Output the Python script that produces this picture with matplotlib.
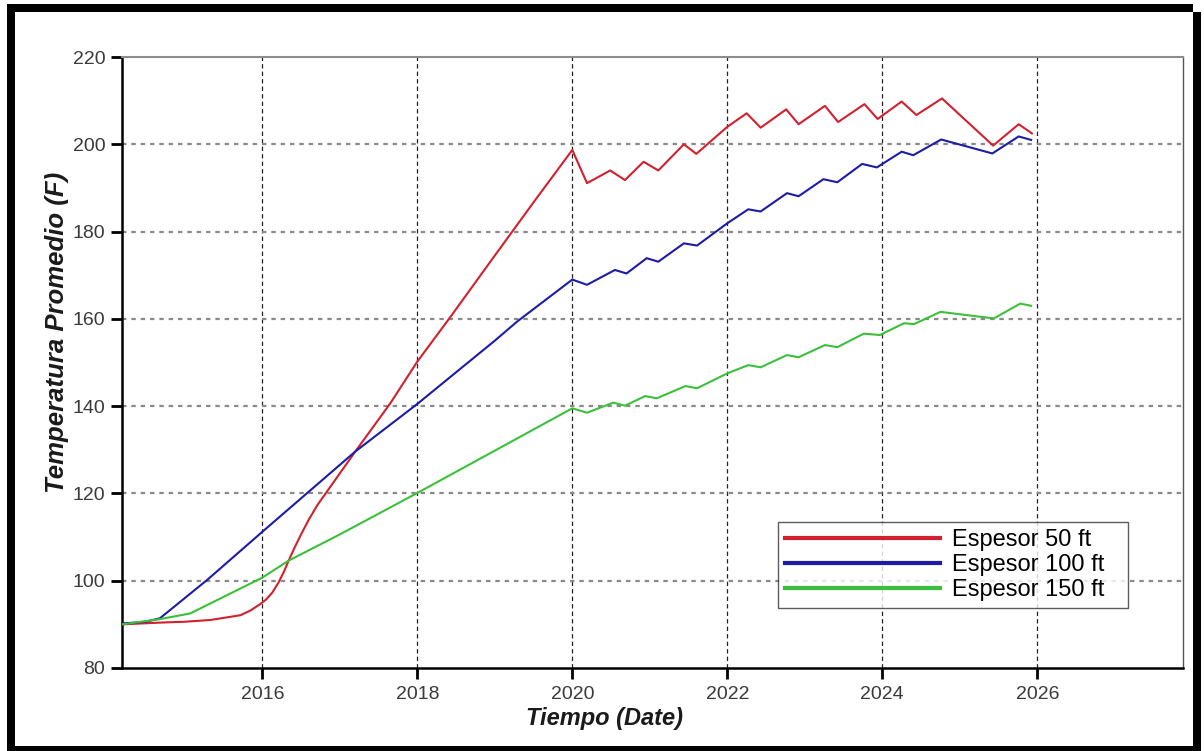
import matplotlib
matplotlib.use("Agg")
import matplotlib.pyplot as plt
from matplotlib.patches import Rectangle
from matplotlib.lines import Line2D

# ---- data: average temperature (F) vs. time (decimal year) ----
red_years = [2014.19, 2014.68, 2015.0, 2015.33, 2015.72, 2015.85, 2015.97, 2016.05,
             2016.13, 2016.21, 2016.28, 2016.34, 2016.42, 2016.5, 2016.6, 2016.71,
             2017.2, 2017.65, 2018.0, 2018.43, 2019.0, 2019.5, 2020.0, 2020.19,
             2020.49, 2020.68, 2020.92, 2021.11, 2021.44, 2021.6, 2022.0, 2022.25,
             2022.43, 2022.76, 2022.92, 2023.26, 2023.43, 2023.77, 2023.94, 2024.25,
             2024.44, 2024.77, 2025.43, 2025.76, 2025.93]
red_temp = [90.0, 90.4, 90.6, 91.0, 92.1, 93.2, 94.6, 95.7,
            97.3, 99.6, 102.1, 104.6, 107.7, 110.6, 114.0, 117.3,
            129.6, 140.6, 150.2, 160.5, 174.5, 186.7, 198.7, 191.1,
            194.0, 191.8, 196.0, 194.0, 200.0, 197.8, 204.0, 207.1,
            203.8, 208.0, 204.6, 208.8, 205.1, 209.2, 205.8, 209.8,
            206.7, 210.5, 199.7, 204.6, 202.5]

blue_years = [2014.19, 2014.5, 2014.68, 2015.29, 2016.0, 2017.2, 2018.0, 2019.0,
              2019.29, 2020.0, 2020.19, 2020.55, 2020.7, 2020.96, 2021.11, 2021.44,
              2021.61, 2022.0, 2022.27, 2022.43, 2022.77, 2022.92, 2023.24, 2023.42,
              2023.74, 2023.93, 2024.25, 2024.40, 2024.76, 2025.42, 2025.76, 2025.92]
blue_temp = [90.2, 90.6, 91.4, 100.2, 111.2, 129.6, 140.5, 155.0,
             159.4, 169.0, 167.8, 171.2, 170.4, 173.9, 173.1, 177.3,
             176.8, 181.9, 185.1, 184.6, 188.8, 188.1, 192.0, 191.3,
             195.5, 194.7, 198.3, 197.5, 201.1, 197.9, 201.8, 201.0]

green_years = [2014.19, 2014.68, 2015.07, 2016.0, 2016.34, 2017.0, 2018.0, 2019.0,
               2020.0, 2020.19, 2020.53, 2020.68, 2020.94, 2021.09, 2021.46, 2021.61,
               2022.0, 2022.27, 2022.43, 2022.77, 2022.92, 2023.26, 2023.42, 2023.76,
               2023.97, 2024.28, 2024.41, 2024.75, 2025.44, 2025.78, 2025.92]
green_temp = [90.0, 91.2, 92.5, 100.7, 104.6, 110.6, 120.1, 129.8,
              139.5, 138.5, 140.8, 140.1, 142.3, 141.8, 144.6, 144.1,
              147.5, 149.4, 148.9, 151.7, 151.2, 154.0, 153.5, 156.6,
              156.3, 159.0, 158.8, 161.6, 160.1, 163.5, 163.0]

series_labels = ["Espesor 50 ft", "Espesor 100 ft", "Espesor 150 ft"]
series_colors = ["#d3202e", "#1c1ca6", "#3cc03c"]

x_ticks = [2016, 2018, 2020, 2022, 2024, 2026]
y_ticks = [80, 100, 120, 140, 160, 180, 200, 220]

W, H = 1204, 751
plt.rcParams["font.family"] = ["Liberation Sans", "DejaVu Sans"]

fig = plt.figure(figsize=(W / 100, H / 100), dpi=100)
fig.patch.set_facecolor("white")


def box(x0, y0, x1, y1):
    """Rectangle from pixel coords (origin top-left) to figure fractions."""
    return (x0 / W, 1 - y1 / H, (x1 - x0) / W, (y1 - y0) / H)


# heavy black frame around the whole figure
for x0, y0, x1, y1 in [(7, 4, 1193, 12), (7, 4, 15, 751), (1193, 12, 1201, 751), (7, 746, 1201, 751)]:
    l, b, w, h = box(x0, y0, x1, y1)
    fig.patches.append(Rectangle((l, b), w, h, transform=fig.transFigure,
                                 facecolor="black", edgecolor="none", zorder=10))

l, b, w, h = box(122, 57, 1183, 668)
ax = fig.add_axes([l, b, w, h])

for yrs, vals, lab, col in zip([red_years, blue_years, green_years],
                               [red_temp, blue_temp, green_temp],
                               series_labels, series_colors):
    ax.plot(yrs, vals, color=col, lw=1.5, label=lab, zorder=3)

ax.set_xlim(2014.19, 2027.88)
ax.set_ylim(80, 220)
ax.set_xticks(x_ticks)
ax.set_xticklabels([str(t) for t in x_ticks])
ax.set_yticks(y_ticks)

# grid: black dashed verticals, grey square-dotted horizontals
for xt in x_ticks:
    ax.axvline(xt, color="#222222", lw=0.9, ls=(0, (3.5, 2.5)), zorder=1)
for yt in y_ticks[1:-1]:
    ax.axhline(yt, color="#8a8a8a", lw=1.6, ls=(0, (2.0, 2.2)), zorder=1)

for side in ("left", "bottom"):
    ax.spines[side].set_color("black")
    ax.spines[side].set_linewidth(1.8)
ax.spines["top"].set_color("#8c8c8c")
ax.spines["top"].set_linewidth(1.5)
ax.spines["right"].set_color("#555555")
ax.spines["right"].set_linewidth(1.0)

ax.tick_params(axis="both", direction="out", length=8, width=2.0, color="black",
               labelsize=14, labelcolor="#3a3a3a")
ax.tick_params(axis="x", pad=5)
ax.tick_params(axis="y", pad=4)

fig.text(605 / W, 1 - 719 / H, "Tiempo (Date)", ha="center", va="center",
         fontsize=17, fontweight="bold", fontstyle="italic", color="#1a1a1a")
fig.text(57 / W, 1 - 332 / H, "Temperatura Promedio (F)", ha="center", va="center",
         rotation=90, fontsize=18.5, fontweight="bold", fontstyle="italic", color="#1a1a1a")

handles = [Line2D([0], [0], color=c, lw=3.0) for c in series_colors]
lx, ly, lw_, lh = box(778, 522, 1128, 612)
leg = ax.legend(handles, series_labels, loc="upper left", mode="expand",
                bbox_to_anchor=(lx, ly, lw_, lh), bbox_transform=fig.transFigure,
                fontsize=17, frameon=True, fancybox=False, handlelength=6.55,
                handletextpad=0.5, borderpad=0.3, labelspacing=0.13,
                borderaxespad=0.0)
leg.get_frame().set_edgecolor("#333333")
leg.get_frame().set_linewidth(1.0)
leg.set_zorder(5)

fig.savefig("out.png", dpi=100, facecolor="white")
